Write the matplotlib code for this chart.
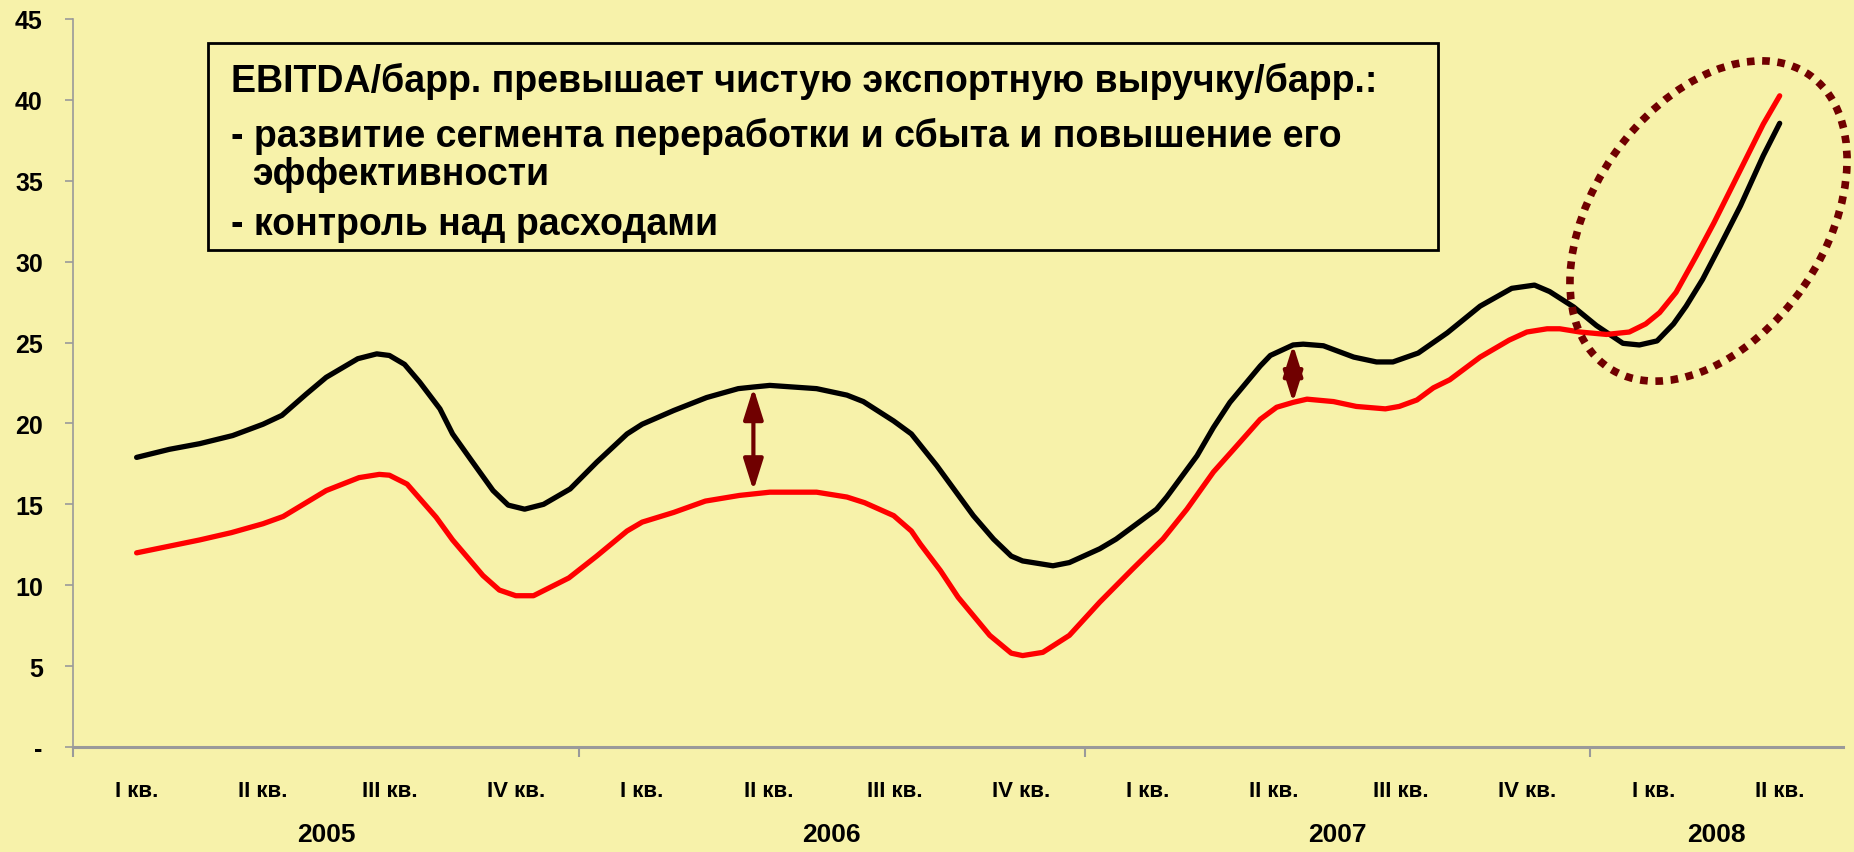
import matplotlib
matplotlib.use('Agg')
import matplotlib.pyplot as plt
from matplotlib.patches import Ellipse, Rectangle

plt.rcParams['font.family'] = ['Liberation Sans', 'DejaVu Sans']

# quarters (category index) and values
quarters = ['I кв.', 'II кв.', 'III кв.', 'IV кв.'] * 3 + ['I кв.', 'II кв.']
years = ['2005', '2006', '2007', '2008']
year_first = [0, 4, 8, 12]
year_last = [3, 7, 11, 13]
y_ticks = [0, 5, 10, 15, 20, 25, 30, 35, 40, 45]

# EBITDA / bbl (black)
black_x = [0, 0.26, 0.5, 0.76, 1.0, 1.15, 1.34, 1.5, 1.75, 1.9, 2.0, 2.12, 2.24, 2.4, 2.5,
           2.65, 2.82, 2.94, 3.07, 3.22, 3.43, 3.64, 3.88, 4.0, 4.25, 4.51, 4.76, 4.88, 5.01,
           5.38, 5.62, 5.75, 5.99, 6.13, 6.33, 6.62, 6.78, 6.92, 7.01, 7.25, 7.38, 7.62, 7.75,
           8.07, 8.15, 8.39, 8.52, 8.65, 8.89, 8.97, 9.15, 9.23, 9.39, 9.63, 9.81, 9.94, 10.14,
           10.37, 10.63, 10.88, 11.06, 11.18, 11.37, 11.55, 11.76, 11.89, 12.03, 12.16, 12.26,
           12.39, 12.53, 12.69, 12.87, 13.0]
black_y = [17.9, 18.4, 18.75, 19.25, 19.95, 20.5, 21.8, 22.85, 24.0, 24.3, 24.2, 23.65, 22.55,
           20.9, 19.35, 17.7, 15.85, 14.95, 14.7, 15.0, 15.95, 17.6, 19.35, 19.95, 20.8, 21.6,
           22.15, 22.25, 22.35, 22.15, 21.75, 21.35, 20.15, 19.35, 17.4, 14.3, 12.85, 11.8, 11.5,
           11.2, 11.4, 12.25, 12.85, 14.7, 15.45, 18.0, 19.75, 21.3, 23.55, 24.2, 24.85, 24.9,
           24.8, 24.1, 23.8, 23.8, 24.35, 25.6, 27.25, 28.35, 28.55, 28.15, 27.2, 26.05, 24.95,
           24.85, 25.1, 26.15, 27.25, 28.9, 31.0, 33.45, 36.55, 38.55]

# net export revenue / bbl (red)
red_x = [0, 0.5, 0.75, 1.0, 1.16, 1.5, 1.76, 1.92, 2.0, 2.14, 2.37, 2.5, 2.74, 2.87, 3.0, 3.14,
         3.42, 3.64, 3.88, 4.0, 4.25, 4.5, 4.77, 5.01, 5.38, 5.62, 5.76, 5.99, 6.13, 6.2, 6.36,
         6.5, 6.75, 6.92, 7.01, 7.17, 7.38, 7.62, 7.88, 8.12, 8.31, 8.52, 8.68, 8.89, 9.02,
         9.15, 9.26, 9.47, 9.65, 9.88, 9.99, 10.13, 10.26, 10.39, 10.63, 10.86, 11.0, 11.16,
         11.26, 11.42, 11.63, 11.81, 11.94, 12.05, 12.18, 12.34, 12.48, 12.64, 12.87, 13.0]
red_y = [12.0, 12.8, 13.25, 13.8, 14.25, 15.85, 16.65, 16.85, 16.8, 16.25, 14.2, 12.8, 10.6,
         9.7, 9.35, 9.35, 10.45, 11.8, 13.35, 13.9, 14.5, 15.2, 15.55, 15.75, 15.75, 15.45,
         15.1, 14.3, 13.35, 12.55, 10.9, 9.25, 6.9, 5.8, 5.65, 5.85, 6.9, 8.95, 11.0, 12.85,
         14.7, 17.0, 18.4, 20.25, 21.0, 21.3, 21.5, 21.35, 21.05, 20.9, 21.05, 21.45, 22.2,
         22.7, 24.1, 25.15, 25.65, 25.85, 25.85, 25.65, 25.5, 25.65, 26.15, 26.85, 28.1, 30.35,
         32.4, 34.9, 38.5, 40.25]

# gap arrows: x, top, bottom
arrow_x = [4.88, 9.15]
arrow_top = [22.2, 24.85]
arrow_bottom = [15.85, 21.3]

box_lines = ['EBITDA/барр. превышает чистую экспортную выручку/барр.:',
             '- развитие сегмента переработки и сбыта и повышение его',
             'эффективности',
             '- контроль над расходами']

bg = '#F7F2AA'
maroon = '#700000'
grey = '#9A9A9A'

fig = plt.figure(figsize=(18.54, 8.53), dpi=100, facecolor=bg)
ax = fig.add_axes([0.0396, 0.1231, 0.9544, 0.8535])
ax.set_facecolor(bg)

ax.plot(black_x, black_y, color='black', lw=3.8, solid_joinstyle='round', solid_capstyle='round')
ax.plot(red_x, red_y, color='#FF0000', lw=3.8, solid_joinstyle='round', solid_capstyle='round')

for x, t, b in zip(arrow_x, arrow_top, arrow_bottom):
    ax.annotate('', xy=(x, t), xytext=(x, b),
                arrowprops=dict(arrowstyle='<|-|>,head_length=0.95,head_width=0.3',
                                color=maroon, lw=3, mutation_scale=20,
                                shrinkA=0, shrinkB=0))

ax.set_xlim(-0.5, 13.5)
ax.set_ylim(0, 45)
ax.set_yticks(y_ticks)
ax.set_yticklabels(['-' if v == 0 else str(v) for v in y_ticks],
                   fontsize=18, fontweight='bold')
ax.set_xticks([-0.5, 3.5, 7.5, 11.5])
ax.set_xticklabels([])
ax.tick_params(axis='y', length=6, width=1.2, color=grey, pad=16)
ax.tick_params(axis='x', length=7, width=1.5, color=grey)

for s in ['top', 'right']:
    ax.spines[s].set_visible(False)
ax.spines['left'].set_color(grey)
ax.spines['left'].set_linewidth(1.2)
ax.spines['bottom'].set_color(grey)
ax.spines['bottom'].set_linewidth(2.2)

tr = ax.get_xaxis_transform()
for i, q in enumerate(quarters):
    ax.text(i, -0.060, q, transform=tr, ha='center', va='center',
            fontsize=16, fontweight='bold')
for y, a, b in zip(years, year_first, year_last):
    ax.text((a + b) / 2, -0.120, y, transform=tr, ha='center', va='center',
            fontsize=19, fontweight='bold')

# text box
fig.add_artist(Rectangle((0.1122, 0.7057), 0.6634, 0.2430, transform=fig.transFigure,
                         facecolor=bg, edgecolor='black', lw=2))
line_x = [0.1246, 0.1246, 0.1359, 0.1246]
line_y = [0.8921, 0.8277, 0.7831, 0.7240]
for s, x, y in zip(box_lines, line_x, line_y):
    fig.text(x, y, s, ha='left', va='baseline', fontsize=27, fontweight='bold')

# dotted ellipse around 2008
fig.add_artist(Ellipse((17.085, 6.31), 3.55, 2.31, angle=55.4,
                       transform=fig.dpi_scale_trans, fill=False,
                       edgecolor=maroon, lw=5.5, linestyle=(0, (1, 1))))

fig.savefig('out.png', dpi=100, facecolor=bg)
